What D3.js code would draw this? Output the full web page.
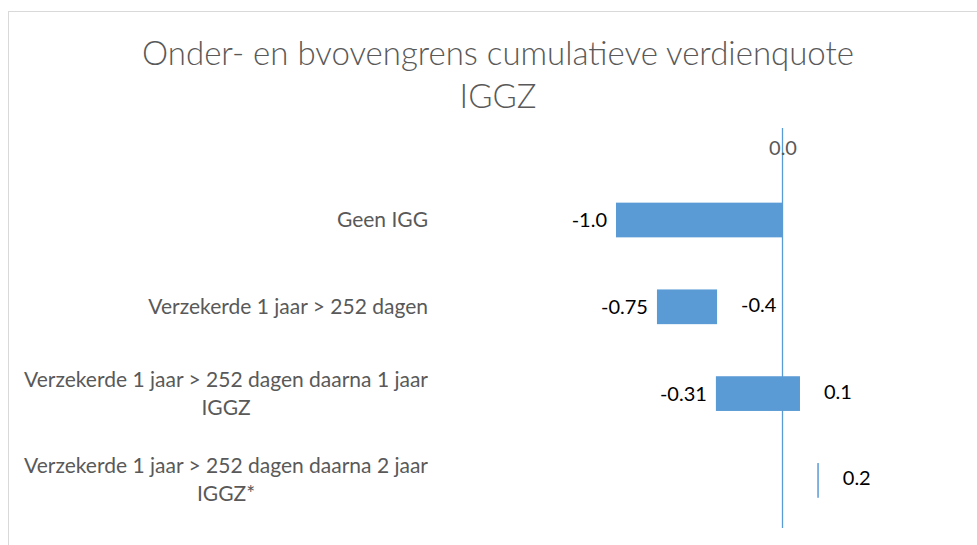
<!DOCTYPE html>
<html>
<head>
<meta charset="utf-8">
<script src="https://cdn.jsdelivr.net/npm/d3@7"></script>
<style>
  body { margin: 0; background: #fff; }
  text { font-family: Lato, "Open Sans", sans-serif; }
</style>
</head>
<body>
<div id="chart"></div>
<script>
// =================================== DATA ===================================

const categories = [
  ["Geen IGG"],
  ["Verzekerde 1 jaar > 252 dagen"],
  ["Verzekerde 1 jaar > 252 dagen daarna 1 jaar", "IGGZ"],
  ["Verzekerde 1 jaar > 252 dagen daarna 2 jaar", "IGGZ*"]
]

// start and end of each drawn bar
const lowerValues = [-1.0, -0.754, -0.4, 0.209]
const upperValues = [0.0, -0.393, 0.105, 0.218]

// data labels as printed
const lowerLabels = ["-1.0", "-0.75", "-0.31", ""]
const upperLabels = ["", "-0.4", "0.1", "0.2"]

const axisTicks = [0]

const titleLines = ["Onder- en bvovengrens cumulatieve verdienquote", "IGGZ"]

// =================================== SETTINGS ===================================

const width = 977
const height = 545
const barColor = '#5B9BD5'
const grey = '#595959'

const svg = d3.select('#chart')
  .append('svg')
  .attr('width', width)
  .attr('height', height)

// chart border (only left and top are visible in the original crop)
svg.append('rect')
  .attr('x', 8.5)
  .attr('y', 11.5)
  .attr('width', width + 20)
  .attr('height', height + 20)
  .attr('fill', '#fff')
  .attr('stroke', '#d9d9d9')

const rows = categories.map((c, i) => ({
  idx: i, lines: c,
  lo: lowerValues[i], hi: upperValues[i],
  loLabel: lowerLabels[i], hiLabel: upperLabels[i]
}))

const x = d3.scaleLinear()
  .domain([-1, 0])
  .range([616, 782.5])

const y = d3.scaleBand()
  .domain(rows.map(d => d.idx))
  .range([176.6, 523.8])
  .paddingInner(0.6)
  .paddingOuter(0.3)

// =================================== TITLE ===================================

svg.append('g')
  .selectAll('text')
  .data(titleLines)
  .enter().append('text')
  .attr('x', 498)
  .attr('y', (d, i) => 65 + i * 43)
  .attr('text-anchor', 'middle')
  .style('font-size', '33px')
  .style('font-weight', 300)
  .style('fill', grey)
  .text(d => d)

// =================================== AXES ===================================

// zero line
svg.append('line')
  .attr('x1', x(0)).attr('x2', x(0))
  .attr('y1', 128).attr('y2', 528)
  .attr('stroke', barColor)
  .attr('stroke-width', 1.3)

const topAxis = svg.append('g')
  .attr('transform', 'translate(0,164)')
  .call(d3.axisTop(x).tickValues(axisTicks).tickSize(0).tickPadding(9).tickFormat(d3.format('.1f')))
topAxis.select('.domain').remove()
topAxis.selectAll('text')
  .attr('dy', 0)
  .style('font-size', '20px')
  .style('font-family', 'Lato, sans-serif')
  .style('fill', grey)

// category labels
const cat = svg.append('g')
  .selectAll('text')
  .data(rows)
  .enter().append('text')
  .attr('text-anchor', 'middle')
  .style('font-size', '21px')
  .style('fill', grey)

cat.each(function (d) {
  const t = d3.select(this)
  const cy = y(d.idx) + y.bandwidth() / 2
  const n = d.lines.length
  const lineH = 28
  d.lines.forEach((line, k) => {
    t.append('tspan')
      .attr('y', cy + 7 + (k - (n - 1) / 2) * lineH)
      .text(line)
  })
})
// right-align the block, centre the lines inside it
cat.each(function () {
  const t = d3.select(this)
  const w = d3.max(t.selectAll('tspan').nodes(), n => n.getComputedTextLength())
  t.selectAll('tspan').attr('x', 428 - w / 2)
})

// =================================== BARS ===================================

svg.append('g')
  .selectAll('rect')
  .data(rows)
  .enter().append('rect')
  .attr('x', d => x(d.lo))
  .attr('y', d => y(d.idx))
  .attr('width', d => Math.max(1.5, x(d.hi) - x(d.lo)))
  .attr('height', y.bandwidth())
  .attr('fill', barColor)

// =================================== LABELS ===================================

svg.append('g')
  .selectAll('text')
  .data(rows)
  .enter().append('text')
  .attr('x', d => x(d.lo) - 9)
  .attr('y', d => y(d.idx) + y.bandwidth() / 2 + 7)
  .attr('text-anchor', 'end')
  .style('font-size', '20px')
  .style('fill', '#000')
  .text(d => d.loLabel)

svg.append('g')
  .selectAll('text')
  .data(rows)
  .enter().append('text')
  .attr('x', d => x(d.hi) + 24)
  .attr('y', d => y(d.idx) + y.bandwidth() / 2 + 5)
  .attr('text-anchor', 'start')
  .style('font-size', '20px')
  .style('fill', '#000')
  .text(d => d.hiLabel)
</script>
</body>
</html>
